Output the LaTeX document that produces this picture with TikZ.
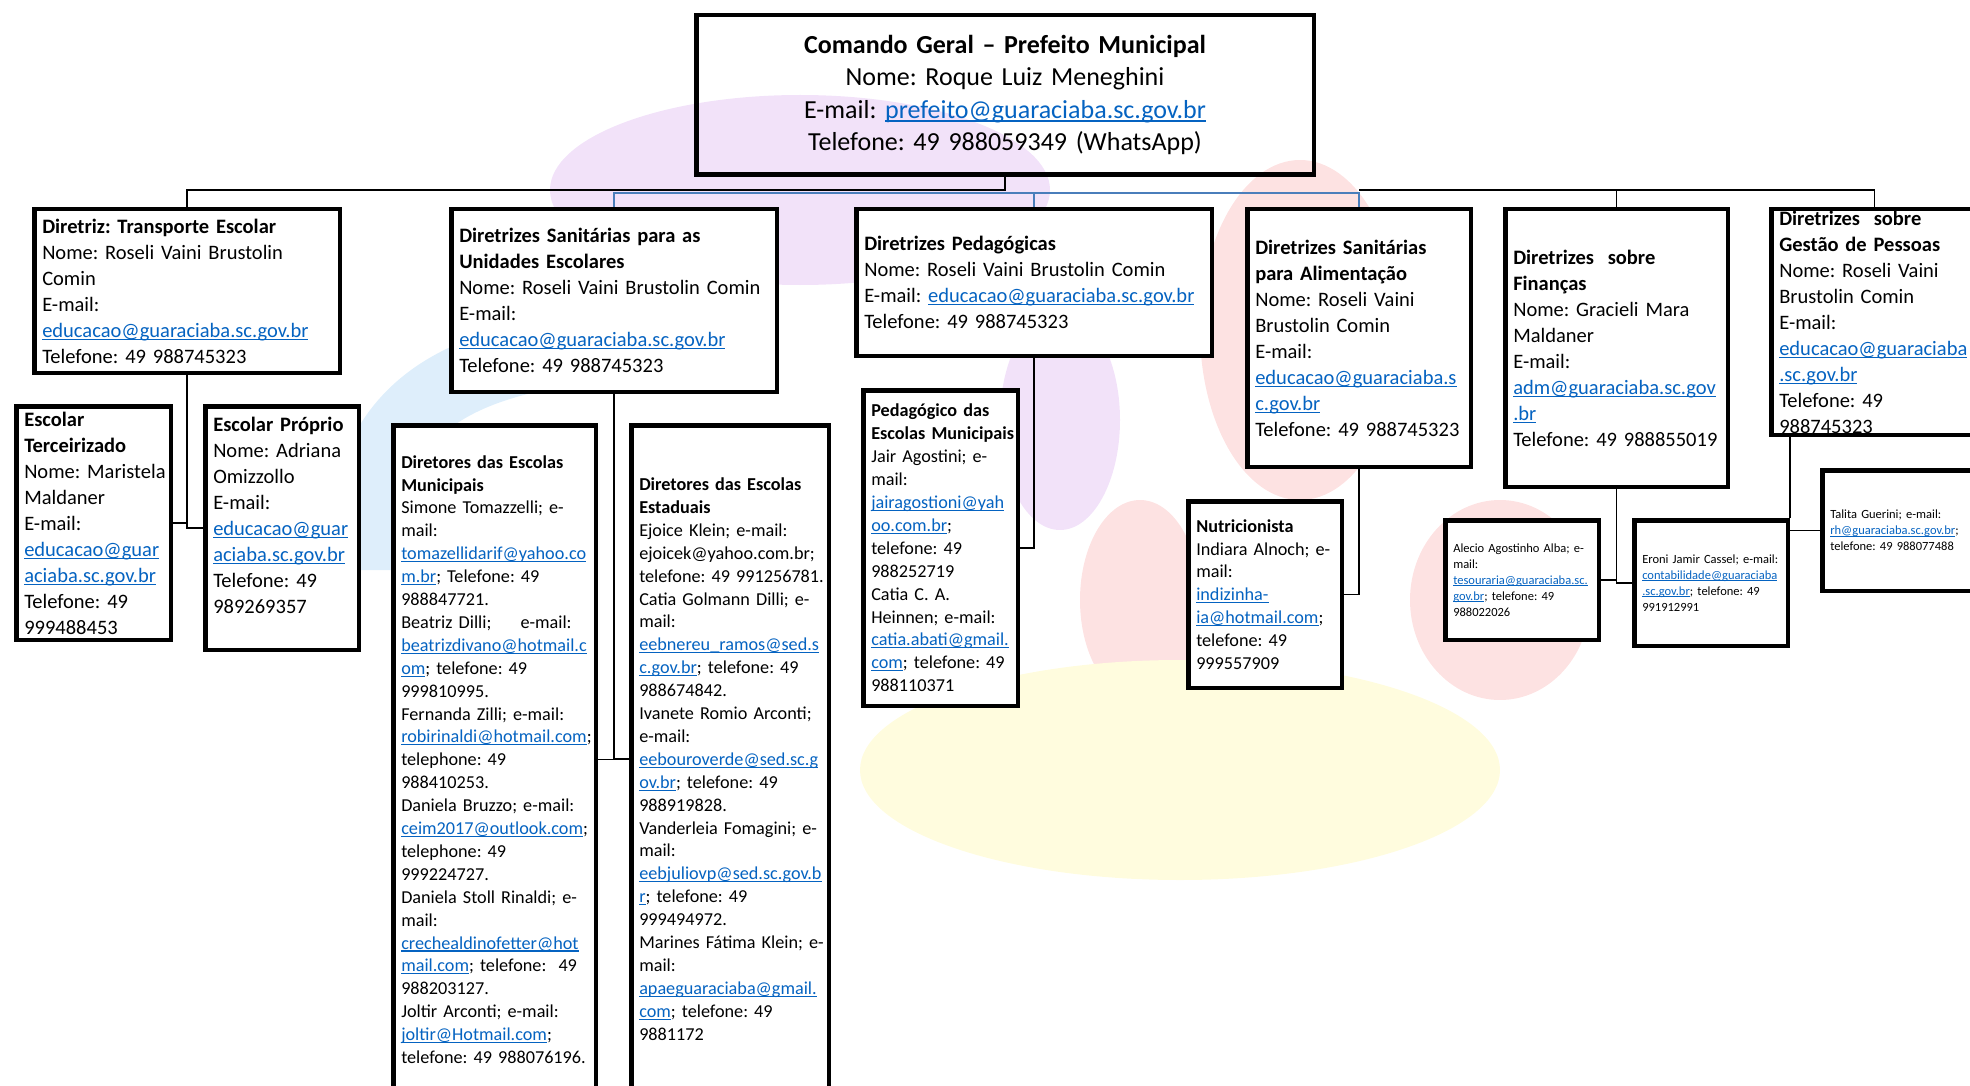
\documentclass[tikz,border=0pt]{standalone}
\usepackage{fontspec}
\setmainfont{Carlito}
\usepackage{tikz}
\definecolor{linkblue}{RGB}{5,99,193}
\definecolor{busblue}{RGB}{74,126,187}
\definecolor{wmpurple}{RGB}{242,226,249}
\definecolor{wmblue}{RGB}{222,238,251}
\definecolor{wmred}{RGB}{253,226,226}
\definecolor{wmyellow}{RGB}{255,252,222}
\newcommand{\lnk}[1]{\leavevmode{\color{linkblue}\setbox0\hbox{#1}\rlap{\rule[-0.14em]{\wd0}{0.06em}}\box0}}
\hyphenpenalty=10000
\exhyphenpenalty=10000
\frenchspacing

\begin{document}
\begin{tikzpicture}[
  x=1pt, y=-1pt,
  box/.style={draw, fill=white, line width=4.5pt, anchor=north west, align=left, inner xsep=8pt, inner ysep=0pt},
  big/.style={font=\fontsize{20.5}{26}\selectfont},
  mid/.style={font=\fontsize{18.2}{22.9}\selectfont},
  small/.style={font=\fontsize{12.5}{16}\selectfont},
  conn/.style={line width=1.2pt},
  bconn/.style={line width=1.6pt, draw=busblue}
]
\useasboundingbox (0,0) rectangle (1970,1086);

% watermark
\fill[wmpurple] (800,190) ellipse (250 and 95);
\fill[wmpurple] (1060,420) ellipse (60 and 110);
\draw[wmblue, line width=70pt] (360,570) .. controls (360,370) and (500,340) .. (760,340);
\fill[wmred] (1300,330) ellipse (100 and 170);
\fill[wmred] (1140,600) ellipse (60 and 100);
\fill[wmred] (1500,600) ellipse (90 and 100);
\fill[wmyellow] (1180,770) ellipse (320 and 110);

\node[box, fill=none, align=center, text width=601.5pt, minimum height=159.5pt, font=\fontsize{26}{32.5}\selectfont] (cmd) at (694,13) {\textbf{Comando Geral -- Prefeito Municipal}\\
Nome: Roque Luiz Meneghini\\
E-mail: \lnk{prefeito@guaraciaba.sc.gov.br}\\
Telefone: 49 988059349 (WhatsApp)};

\node[box, big, text width=289.5pt, minimum height=163.5pt] (transp) at (32,207) {\textbf{Diretriz: Transporte Escolar}\\
Nome: Roseli Vaini Brustolin\\
Comin\\
E-mail:\\
\lnk{educacao@guaraciaba.sc.gov.br}\\
Telefone: 49 988745323};

\node[box, big, text width=138.5pt, minimum height=233.5pt] (terc) at (14,404) {\textbf{Escolar}\\
\textbf{Terceirizado}\\
\mbox{Nome: Maristela}\\
Maldaner\\
E-mail:\\
\lnk{educacao@guar}\\
\lnk{aciaba.sc.gov.br}\\
Telefone: 49\\
999488453};

\node[box, big, text width=137.5pt, minimum height=243.5pt] (prop) at (203,404) {\mbox{\textbf{Escolar Próprio}}\\
Nome: Adriana\\
Omizzollo\\
E-mail:\\
\lnk{educacao@guar}\\
\lnk{aciaba.sc.gov.br}\\
Telefone: 49\\
989269357\\ \mbox{}};

\node[box, big, text width=309.5pt, minimum height=182.5pt] (sanun) at (449,207) {\textbf{Diretrizes Sanitárias para as}\\
\textbf{Unidades Escolares}\\
\mbox{Nome: Roseli Vaini Brustolin Comin}\\
E-mail:\\
\lnk{educacao@guaraciaba.sc.gov.br}\\
Telefone: 49 988745323};

\node[box, mid, text width=186.5pt, minimum height=668.5pt] (muni) at (391,423) {\textbf{Diretores das Escolas}\\
\textbf{Municipais}\\
Simone Tomazzelli; e-\\
mail:\\
\lnk{tomazellidarif@yahoo.co}\\
\lnk{m.br}; Telefone: 49\\
988847721.\\
Beatriz Dilli;\hspace{1.6em}e-mail:\\
\lnk{beatrizdivano@hotmail.c}\\
\lnk{om}; telefone: 49\\
999810995.\\
Fernanda Zilli; e-mail:\\
\mbox{\lnk{robirinaldi@hotmail.com};}\\
telephone: 49\\
988410253.\\
Daniela Bruzzo; e-mail:\\
\mbox{\lnk{ceim2017@outlook.com};}\\
telephone: 49\\
999224727.\\
\mbox{Daniela Stoll Rinaldi; e-}\\
mail:\\
\lnk{crechealdinofetter@hot}\\
\lnk{mail.com}; telefone:\ \ 49\\
988203127.\\
Joltir Arconti; e-mail:\\
\lnk{joltir@Hotmail.com};\\
\mbox{telefone: 49 988076196.}};

\node[box, mid, text width=181.5pt, minimum height=667.5pt] (esta) at (629,423) {\textbf{Diretores das Escolas}\\
\textbf{Estaduais}\\
Ejoice Klein; e-mail:\\
\mbox{ejoicek@yahoo.com.br;}\\
\mbox{telefone: 49 991256781.}\\
\mbox{Catia Golmann Dilli; e-}\\
mail:\\
\lnk{eebnereu\_ramos@sed.s}\\
\lnk{c.gov.br}; telefone: 49\\
988674842.\\
\mbox{Ivanete Romio Arconti;}\\
e-mail:\\
\lnk{eebouroverde@sed.sc.g}\\
\lnk{ov.br}; telefone: 49\\
988919828.\\
\mbox{Vanderleia Fomagini; e-}\\
mail:\\
\lnk{eebjuliovp@sed.sc.gov.b}\\
\lnk{r}; telefone: 49\\
999494972.\\
\mbox{Marines Fátima Klein; e-}\\
mail:\\
\lnk{apaeguaraciaba@gmail.}\\
\lnk{com}; telefone: 49\\
9881172};

\node[box, big, text width=339.5pt, minimum height=146.5pt] (pedag) at (854,207) {\textbf{Diretrizes Pedagógicas}\\
Nome: Roseli Vaini Brustolin Comin\\
\mbox{E-mail: \lnk{educacao@guaraciaba.sc.gov.br}}\\
Telefone: 49 988745323};

\node[box, mid, text width=138.5pt, minimum height=315.5pt] (pedmun) at (861,388) {\textbf{Pedagógico das}\\
\mbox{\textbf{Escolas Municipais}}\\
Jair Agostini; e-\\
mail:\\
\lnk{jairagostioni@yah}\\
\lnk{oo.com.br};\\
telefone: 49\\
988252719\\
Catia C. A.\\
Heinnen; e-mail:\\
\lnk{catia.abati@gmail.}\\
\mbox{\lnk{com}; telefone: 49}\\
988110371};

\node[box, big, text width=207.5pt, minimum height=257.5pt] (alim) at (1245,207) {\textbf{Diretrizes Sanitárias}\\
\textbf{para Alimentação}\\
Nome: Roseli Vaini\\
Brustolin Comin\\
E-mail:\\
\lnk{educacao@guaraciaba.s}\\
\lnk{c.gov.br}\\
\mbox{Telefone: 49 988745323}};

\node[box, mid, text width=137.5pt, minimum height=186.5pt] (nutri) at (1186,499) {\textbf{Nutricionista}\\
\mbox{Indiara Alnoch; e-}\\
mail:\\
\lnk{indizinha-}\\
\mbox{\lnk{ia@hotmail.com};}\\
telefone: 49\\
999557909};

\node[box, big, text width=206.5pt, minimum height=277.5pt] (fin) at (1503,207) {\textbf{Diretrizes\ \ sobre}\\
\textbf{Finanças}\\
Nome: Gracieli Mara\\
Maldaner\\
E-mail:\\
\lnk{adm@guaraciaba.sc.gov}\\
\lnk{.br}\\
\mbox{Telefone: 49 988855019}};

\node[box, small, text width=137.5pt, minimum height=119.5pt] (alecio) at (1443,518) {\mbox{Alecio Agostinho Alba; e-}\\
mail:\\
\lnk{tesouraria@guaraciaba.sc.}\\
\lnk{gov.br}; telefone: 49\\
988022026};

\node[box, small, text width=137.5pt, minimum height=125.5pt] (eroni) at (1632,518) {\mbox{Eroni Jamir Cassel; e-mail:}\\
\lnk{contabilidade@guaraciaba}\\
\mbox{\lnk{.sc.gov.br}; telefone: 49}\\
991912991};

\node[box, big, text width=190pt, minimum height=225.5pt] (gest) at (1769,207) {\textbf{Diretrizes\ \ sobre}\\
\textbf{Gestão de Pessoas}\\
Nome: Roseli Vaini\\
Brustolin Comin\\
E-mail:\\
\lnk{educacao@guaraciaba}\\
\lnk{.sc.gov.br}\\
Telefone: 49\\
988745323};

\node[box, small, text width=184pt, minimum height=120.5pt] (talita) at (1820,468) {Talita Guerini; e-mail:\\
\mbox{\lnk{rh@guaraciaba.sc.gov.br};}\\
telefone: 49 988077488};

\coordinate (bus) at (0,190);
\coordinate (busb) at (0,193);

\draw[conn] (cmd.south) |- (transp.north |- bus) -- (transp.north);
\draw[bconn] (sanun.north) |- (alim.north |- busb) -- (alim.north);
\draw[bconn] (pedag.north) -- (pedag.north |- busb);
\draw[conn] (alim.north |- bus) -| (gest.north);
\draw[conn] (fin.north) -- (fin.north |- bus);

\draw[conn] (transp.south) |- (prop.west);
\draw[conn] (terc.east) -| (transp.south);
\draw[conn] (sanun.south) |- (muni.east);
\draw[conn] (esta.west) -| (sanun.south);
\draw[conn] (pedag.south) |- (pedmun.east);
\draw[conn] (alim.south) |- (nutri.east);
\draw[conn] (fin.south) |- (alecio.east);
\draw[conn] (eroni.west) -| (fin.south);
\draw[conn] (eroni.north east |- gest.south) -- (eroni.north east);
\draw[conn] (eroni.north east |- talita.west) -- (talita.west);

\end{tikzpicture}
\end{document}
